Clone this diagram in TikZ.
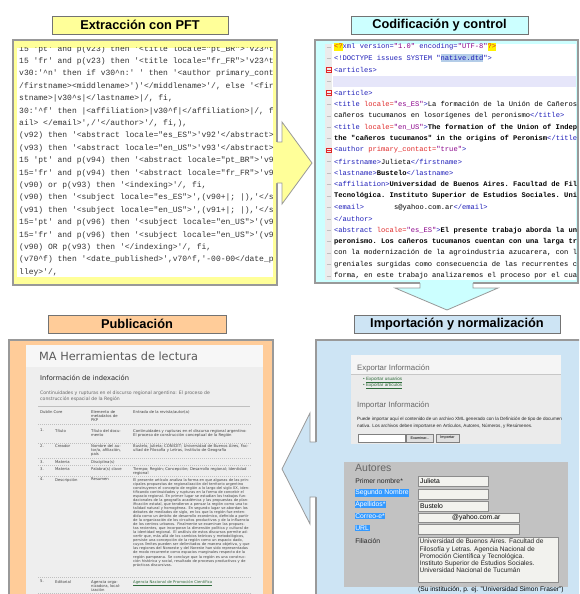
\documentclass[tikz,border=0pt]{standalone}
\usepackage{fontspec}
\setmainfont{Liberation Sans}
\setmonofont{Liberation Mono}
\newfontfamily\ojs{DejaVu Sans}
\usepackage{tikz}

\definecolor{pftyellow}{HTML}{FFFF99}
\definecolor{xmlcyan}{HTML}{CCFFFF}
\definecolor{impblue}{HTML}{CDE4F4}
\definecolor{puborange}{HTML}{FFCC99}
\definecolor{xmlblue}{HTML}{1C1CB8}
\definecolor{xmlred}{HTML}{E02828}
\definecolor{xmlpurple}{HTML}{8A008A}
\definecolor{lavender}{HTML}{E6E6FA}
\definecolor{dtdblue}{HTML}{B4CDE8}
\definecolor{selblue}{HTML}{3399FF}
\definecolor{formgray}{HTML}{C2C2C2}
\definecolor{shotgray}{HTML}{EBEBEB}
\definecolor{pubgray}{HTML}{EEEEEE}
\definecolor{fieldwhite}{HTML}{F2F2EE}
\definecolor{linkgreen}{HTML}{2E6B3A}

\newcommand\code[1]{\detokenize{#1}}
\newcommand\xb[1]{\textcolor{xmlblue}{\detokenize{#1}}}
\newcommand\xr[1]{\textcolor{xmlred}{\detokenize{#1}}}
\newcommand\xv[1]{\textcolor{xmlpurple}{\detokenize{#1}}}
\newcommand\hly[1]{{\setlength\fboxsep{0pt}\colorbox{yellow}{\strut#1}}}
\newcommand\hlb[1]{{\setlength\fboxsep{0pt}\colorbox{dtdblue}{\strut#1}}}

\begin{document}
\begin{tikzpicture}[x=1pt, y=-1pt,
    header/.style={draw=black!55, line width=0.9pt, minimum height=18, inner sep=0pt,
        font=\bfseries\fontsize{12.8}{14}\selectfont},
    panel/.style={draw=black!40, line width=1.1pt},
    blockarrow/.style={draw=black!40, line width=0.8pt, line join=miter},
    codeline/.style={anchor=west, inner sep=0pt, text=black!80,
        font=\ttfamily\fontsize{8}{9}\selectfont},
    xmlline/.style={anchor=west, inner sep=0pt, font=\ttfamily\fontsize{7.1}{8}\selectfont},
    fold/.style={draw=xmlred, line width=0.5pt, minimum size=4.5, inner sep=0pt,
        path picture={\draw[xmlred, line width=0.5pt] (path picture bounding box.west) -- (path picture bounding box.east);}},
    shottitle/.style={anchor=west, inner sep=0pt, text=black!60, font=\fontsize{7.8}{9}\selectfont},
    shotsmall/.style={anchor=west, inner sep=0pt, text=black!85, font=\fontsize{4.6}{5}\selectfont},
    button/.style={draw=black!50, fill=black!12, minimum width=27, minimum height=8, inner sep=0pt,
        font=\fontsize{3.8}{4}\selectfont},
    formlabel/.style={anchor=west, inner sep=0.6pt, text=black!85, font=\fontsize{6.8}{7.5}\selectfont},
    sellabel/.style={formlabel, fill=selblue, text=white},
    field/.style={draw=black!45, fill=fieldwhite, line width=0.5pt},
    fieldtext/.style={anchor=west, inner sep=0pt, font=\fontsize{6.8}{7.5}\selectfont},
    ojstext/.style={anchor=north west, inner sep=0pt, align=left, text=black!75,
        font=\ojs\fontsize{3.8}{4.3}\selectfont},
    rowline/.style={black!25, line width=0.4pt, dash pattern=on 1pt off 1pt}]
%%   kw   (name)   (x, y)   {text}
    \clip (0,0) rectangle (579,594);
    \fill[white] (0,0) rectangle (579,594);

    %% panels
    \draw[panel, fill=pftyellow] (13,40) rectangle (277,285);
    \fill[white] (17,48) rectangle (273,277);
    \draw[panel, fill=xmlcyan] (315,40) rectangle (578,283);
    \fill[white] (325,44) rectangle (576,280);
    \draw[panel, fill=impblue] (316,340) rectangle (584,600);
    \draw[panel, fill=puborange] (9,340) rectangle (273,600);

    %% block arrows
    \fill[pftyellow] (276,142) -- (282,142) -- (282,122) -- (312,163) -- (282,204) -- (282,183) -- (276,183) -- cycle;
    \draw[blockarrow] (277,142) -- (282,142) -- (282,122) -- (312,163) -- (282,204) -- (282,183) -- (277,183);
    \fill[xmlcyan] (420,282) -- (420,288) -- (395,288) -- (447,310) -- (498,288) -- (473,288) -- (473,282) -- cycle;
    \draw[blockarrow] (420,283) -- (420,288) -- (395,288) -- (447,310) -- (498,288) -- (473,288) -- (473,283);
    \fill[impblue] (317,442) -- (310,442) -- (310,413) -- (282,469) -- (310,524) -- (310,497) -- (317,497) -- cycle;
    \draw[blockarrow] (316,442) -- (310,442) -- (310,413) -- (282,469) -- (310,524) -- (310,497) -- (316,497);

    %% headers
    \node[header, fill=pftyellow, minimum width=176] (hdpft) at (140,25) {Extracción con PFT};
    \node[header, fill=xmlcyan, minimum width=177] (hdxml) at (439.5,25.5) {Codificación y control};
    \node[header, fill=impblue, minimum width=206] (hdimp) at (457,324) {Importación y normalización};
    \node[header, fill=puborange, minimum width=178] (hdpub) at (137,324) {Publicación};

    %% PFT code
    \begin{scope}
    \clip (17,48) rectangle (273,277);
    \foreach \ln [count=\i] in {
        {\code{15 'pt' and p(v23) then '<title locale="pt_BR">'v23^t}},
        {\code{15 'fr' and p(v23) then '<title locale="fr_FR">'v23^t}},
        {\code{v30:'^n' then if v30^n:' ' then '<author primary_cont}},
        {\code{/firstname><middlename>')'</middlename>'/, else '<fir}},
        {\code{stname>|v30^s|</lastname>|/, fi,}},
        {\code{30:'^f' then |<affiliation>|v30^f|</affiliation>|/, f}},
        {\code{ail> </email>',/'</author>'/, fi,),}},
        {\code{(v92) then '<abstract locale="es_ES">'v92'</abstract>}},
        {\code{(v93) then '<abstract locale="en_US">'v93'</abstract>}},
        {\code{15 'pt' and p(v94) then '<abstract locale="pt_BR">'v9}},
        {\code{15='fr' and p(v94) then '<abstract locale="fr_FR">'v9}},
        {\code{(v90) or p(v93) then '<indexing>'/, fi,}},
        {\code{(v90) then '<subject locale="es_ES">',(v90+|; |),'</s}},
        {\code{(v91) then '<subject locale="en_US">',(v91+|; |),'</s}},
        {\code{15='pt' and p(v96) then '<subject locale="en_US">'(v9}},
        {\code{15='fr' and p(v96) then '<subject locale="en_US">'(v9}},
        {\code{(v90) OR p(v93) then '</indexing>'/, fi,}},
        {\code{(v70^f) then '<date_published>',v70^f,'-00-00</date_p}},
        {\code{lley>'/,}}}
        \node[codeline] (pft\i) at (19,36.6+12.4*\i) {\ln};
    \end{scope}

    %% XML file
    \begin{scope}
    \clip (325,44) rectangle (576,280);
    \fill[black!8] (325,44) rectangle (332,280);
    \foreach \k in {0,...,20}
        \draw[black!25, line width=0.4pt] (326.5,47+11.45*\k) -- (330.5,47+11.45*\k);
    \fill[lavender] (333,76) rectangle (576,87);
    \foreach \ln [count=\k] in {
        {\hly{\xr{<?}}\xb{xml version=}\xv{"1.0"} \xb{encoding=}\xv{"UTF-8"}\hly{\xr{?>}}},
        {\xb{<!DOCTYPE issues SYSTEM "}\hlb{\xb{native.dtd}}\xb{">}},
        {\xb{<articles>}},
        {},
        {\xb{<article>}},
        {\xb{<title }\xr{locale=}\xv{"es_ES"}\xb{>}La formación de la Unión de Cañeros},
        {cañeros tucumanos en losorígenes del peronismo\xb{</title>}},
        {\xb{<title }\xr{locale=}\xv{"en_US"}\xb{>}\textbf{The formation of the Union of Indep}},
        {\textbf{the "cañeros tucumanos" in the origins of Peronism}\xb{</title>}},
        {\xb{<author }\xr{primary_contact=}\xv{"true"}\xb{>}},
        {\xb{<firstname>}Julieta\xb{</firstname>}},
        {\xb{<lastname>}\textbf{Bustelo}\xb{</lastname>}},
        {\xb{<affiliation>}\textbf{Universidad de Buenos Aires. Facultad de Fil}},
        {\textbf{Tecnológica. Instituto Superior de Estudios Sociales. Uni}},
        {\xb{<email>}\hspace{30pt}s@yahoo.com.ar\xb{</email>}},
        {\xb{</author>}},
        {\xb{<abstract }\xr{locale=}\xv{"es_ES"}\xb{>}\textbf{El presente trabajo aborda la un}},
        {\textbf{peronismo. Los cañeros tucumanos cuentan con una larga tr}},
        {con la modernización de la agroindustria azucarera, con l},
        {greniales surgidas como consecuencia de las recurrentes c},
        {forma, en este trabajo analizaremos el proceso por el cual}}
        \node[xmlline] (xml\k) at (334,35.55+11.45*\k) {\ln};
    \node[fold] (fold1) at (328.5,69.9) {};
    \node[fold] (fold2) at (328.5,92.8) {};
    \node[fold] (fold3) at (328.5,150.05) {};
    \end{scope}

    %% import screens
    \fill[shotgray] (351,355) rectangle (561,444);
    \fill[black!4] (351,355) rectangle (561,374);
    \draw[black!22, line width=0.5pt] (351,374) -- (561,374);
    \node[shottitle] (expinfo) at (357,368) {Exportar Información};
    \node[shotsmall, text=linkgreen] (explink1) at (363,380) {\textbullet\ \underline{Exportar usuarios}};
    \node[shotsmall, text=linkgreen] (explink2) at (363,386) {\textbullet\ \underline{Exportar artículos}};
    \node[shottitle] (impinfo) at (357,405) {Importar Información};
    \begin{scope}
    \clip (351,355) rectangle (561,444);
    \node[shotsmall] (imptext1) at (357,419) {Puede importar aquí el contenido de un archivo XML generado con la Definición de tipo de documento};
    \node[shotsmall] (imptext2) at (357,426) {nativa. Los archivos deben importarse en Artículos, Autores, Números, y Resúmenes.};
    \end{scope}
    \draw[black!50, fill=white, line width=0.4pt] (358,434) rectangle (405,442);
    \node[button] (browse) at (420,438) {Examinar...};
    \node[button, minimum width=23] (impbtn) at (447.5,438) {Importar};

    \fill[formgray] (344,462) rectangle (568,587);
    \node[anchor=west, inner sep=0pt, text=black!60, font=\fontsize{10.5}{12}\selectfont] (autores) at (355,468) {Autores};
    \node[formlabel] (lbname) at (354.5,481) {Primer nombre*};
    \node[sellabel] (lbmiddle) at (354.5,493) {Segundo Nombre};
    \node[sellabel] (lblast) at (354.5,504.5) {Apellidos*};
    \node[sellabel] (lbmail) at (354.5,516) {Correo-e*};
    \node[sellabel] (lburl) at (354.5,528) {URL};
    \node[formlabel] (lbaff) at (354.5,541) {Filiación};
    \draw[field] (418,476) rectangle (488,486);
    \draw[field] (418,489) rectangle (488,499);
    \draw[field] (418,501) rectangle (488,511);
    \draw[field] (418,513) rectangle (519,522);
    \draw[field] (418,524) rectangle (519,534);
    \draw[field] (418,537) rectangle (558,582);
    \node[fieldtext] (fname) at (420,481) {Julieta};
    \node[fieldtext] (flast) at (420,506) {Bustelo};
    \node[fieldtext] (fmail) at (452,517.5) {@yahoo.com.ar};
    \node[anchor=north west, inner sep=0pt, align=left, text=black!85,
        font=\fontsize{6.6}{7.1}\selectfont] (faff) at (419.5,539) {Universidad de Buenos Aires. Facultad de\\
        Filosofía y Letras. Agencia Nacional de\\
        Promoción Científica y Tecnológica.\\
        Instituto Superior de Estudios Sociales.\\
        Universidad Nacional de Tucumán};
    \node[fieldtext, font=\fontsize{6.6}{7}\selectfont] (faffhint) at (418,590) {(Su institución, p. ej. "Universidad Simon Fraser")};

    %% published article
    \fill[pubgray] (26,345) rectangle (263,600);
    \fill[black!3] (26,345) rectangle (263,367);
    \node[anchor=west, inner sep=0pt, text=black!65, font=\ojs\fontsize{11.3}{13}\selectfont] (matitle) at (39,356) {MA Herramientas de lectura};
    \node[anchor=west, inner sep=0pt, text=black!85, font=\ojs\fontsize{6.7}{8}\selectfont] (idxtitle) at (40,378) {Información de indexación};
    \node[ojstext, font=\ojs\fontsize{4.6}{6.6}\selectfont, text=black!60] (arttitle) at (40,390.5) {Continuidades y rupturas en el discurso regional argentino: El proceso de\\construcción espacial de la Región};
    \draw[black!25, line width=0.5pt] (38,406) -- (250,406);

    \node[ojstext] (th1) at (40,410) {Dublin Core};
    \node[ojstext, text width=34] (th2) at (91,410) {Elemento de metadatos de PKP};
    \node[ojstext] (th3) at (133,410) {Entrada de la revista/autor(a)};

    \node[ojstext] (n1) at (40,429) {1.};
    \node[ojstext] (d1) at (55,429) {Título};
    \node[ojstext, text width=34] (p1) at (91,429) {Título del documento};
    \node[ojstext, text width=117] (v1) at (133,429) {Continuidades y rupturas en el discurso regional argentino: El proceso de construcción conceptual de la Región};

    \node[ojstext] (n2) at (40,444) {2.};
    \node[ojstext] (d2) at (55,444) {Creador};
    \node[ojstext, text width=34] (p2) at (91,444) {Nombre del autor/a, afiliación, país};
    \node[ojstext, text width=117] (v2) at (133,444) {Bustelo, Julieta; CONICET; Universidad de Buenos Aires, Facultad de Filosofía y Letras, Instituto de Geografía};

    \node[ojstext] (n3) at (40,460) {3.};
    \node[ojstext] (d3) at (55,460) {Materia};
    \node[ojstext, text width=34] (p3) at (91,460) {Disciplina(s)};

    \node[ojstext] (n3b) at (40,467) {3.};
    \node[ojstext] (d3b) at (55,467) {Materia};
    \node[ojstext, text width=34] (p3b) at (91,467) {Palabra(s) clave};
    \node[ojstext, text width=117] (v3b) at (133,467) {Tiempo; Región; Concepción; Desarrollo regional; Identidad regional};

    \node[ojstext] (n4) at (40,478) {4.};
    \node[ojstext] (d4) at (55,478) {Descripción};
    \node[ojstext, text width=34] (p4) at (91,478) {Resumen};
    \node[ojstext, text width=117, font=\ojs\fontsize{3.6}{4.05}\selectfont] (v4) at (133,478) {El presente artículo analiza la forma en que algunas de las principales propuestas de regionalización del territorio argentino construyeron el concepto de región a lo largo del siglo XX, identificando continuidades y rupturas en la forma de concebir el espacio regional. En primer lugar se estudian los trabajos fundacionales de la geografía académica y las propuestas de planificación estatal, que tendieron a pensar la región como una totalidad natural y homogénea. En segundo lugar se abordan los debates de mediados de siglo, en los que la región fue entendida como un ámbito de desarrollo económico, definido a partir de la organización de los circuitos productivos y de la influencia de los centros urbanos. Finalmente se examinan las propuestas recientes, que incorporan la dimensión política y cultural de la identidad regional. El análisis de estos discursos permite advertir que, más allá de los cambios teóricos y metodológicos, persiste una concepción de la región como un espacio dado, cuyos límites pueden ser delimitados de manera objetiva, y que las regiones del Noroeste y del Noreste han sido representadas de modo recurrente como espacios marginales respecto de la región pampeana. Se concluye que la región es una construcción histórica y social, resultado de procesos productivos y de prácticas discursivas.};

    \node[ojstext] (n5) at (40,580) {5.};
    \node[ojstext] (d5) at (55,580) {Editorial};
    \node[ojstext, text width=34] (p5) at (91,580) {Agencia organizadora, localización};
    \node[ojstext, text=linkgreen] (v5) at (133,580) {\underline{Agencia Nacional de Promoción Científica}};

    \foreach \yy in {424,443,458,465.5,476,577,593}
        \draw[rowline] (38,\yy) -- (252,\yy);
\end{tikzpicture}
\end{document}
